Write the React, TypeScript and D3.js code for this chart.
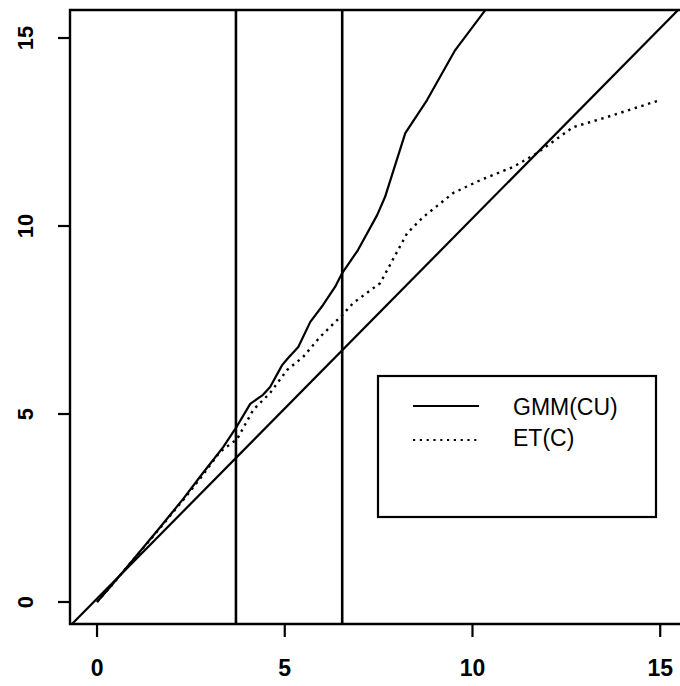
import React from 'react';
import * as d3 from 'd3';

// Axis limits (data units) and ticks
const xLimits = [-0.72, 15.66];
const yLimits = [-0.585, 15.745];
const xTicks = [0, 5, 10, 15];
const yTicks = [0, 5, 10, 15];

// GMM(CU) solid curve
const gmmX = [0, 0.35, 1.0, 1.68, 2.3, 2.82, 3.36, 3.73, 4.08, 4.42, 4.61, 4.93, 5.09, 5.36, 5.68, 6.02, 6.34, 6.53, 6.95, 7.46, 7.67, 8.21, 8.79, 9.54, 10.34, 10.6];
const gmmY = [0, 0.40, 1.17, 1.99, 2.75, 3.43, 4.12, 4.68, 5.27, 5.51, 5.72, 6.30, 6.49, 6.78, 7.45, 7.90, 8.38, 8.75, 9.36, 10.29, 10.77, 12.47, 13.35, 14.68, 15.74, 16.15];

// ET(C) dotted curve
const etX = [0, 0.35, 1.0, 1.68, 2.3, 2.82, 3.28, 3.73, 4.16, 4.61, 5.06, 5.49, 5.94, 6.53, 6.82, 7.54, 8.26, 8.69, 9.49, 10.21, 11.08, 11.72, 12.68, 13.59, 15.0];
const etY = [0, 0.40, 1.16, 1.97, 2.72, 3.38, 4.0, 4.33, 5.11, 5.56, 6.17, 6.52, 7.05, 7.63, 7.95, 8.48, 9.81, 10.24, 10.88, 11.22, 11.57, 11.94, 12.63, 12.9, 13.35];

// 45-degree reference line endpoints
const diagX = [-0.8, 15.6];
const diagY = [-0.72, 15.87];

// Vertical critical-value lines
const criticalValues = [3.70, 6.53];

const legendLabels = ['GMM(CU)', 'ET(C)'];
const legendDash = ['none', '2.2,4.6'];

const W = 680;
const H = 686;
const plotLeft = 70;
const plotTop = 10;
const plotBottom = 624;
const plotRight = 685;

export default function App() {
  const x = d3.scaleLinear().domain(xLimits).range([plotLeft, plotRight]);
  const y = d3.scaleLinear().domain(yLimits).range([plotBottom, plotTop]);

  const line = d3
    .line<[number, number]>()
    .x((d) => x(d[0]))
    .y((d) => y(d[1]));

  const gmm = gmmX.map((v, i) => [v, gmmY[i]] as [number, number]);
  const et = etX.map((v, i) => [v, etY[i]] as [number, number]);
  const diag = diagX.map((v, i) => [v, diagY[i]] as [number, number]);

  const font = "'Liberation Sans', Arial, Helvetica, sans-serif";

  // legend geometry
  const lg = { x: 378, y: 376, w: 278, h: 141 };

  return (
    <svg
      width={W}
      height={H}
      style={{ position: 'absolute', left: 0, top: 0, background: '#fff' }}
      xmlns="http://www.w3.org/2000/svg"
    >
      <defs>
        <clipPath id="plotClip">
          <rect x={plotLeft} y={plotTop} width={plotRight - plotLeft} height={plotBottom - plotTop} />
        </clipPath>
      </defs>
      <rect x={0} y={0} width={W} height={H} fill="#fff" />

      <g clipPath="url(#plotClip)" fill="none" stroke="#000" strokeLinejoin="round">
        <path d={line(diag) || ''} strokeWidth={2.2} />
        {criticalValues.map((c) => (
          <line key={c} x1={x(c)} x2={x(c)} y1={plotTop} y2={plotBottom} strokeWidth={2.6} />
        ))}
        <path d={line(gmm) || ''} strokeWidth={2.2} />
        <path d={line(et) || ''} strokeWidth={2.4} strokeDasharray="2.4,4.6" />
      </g>

      {/* frame */}
      <path
        d={`M${plotRight},${plotTop} L${plotLeft},${plotTop} L${plotLeft},${plotBottom} L${plotRight},${plotBottom}`}
        fill="none"
        stroke="#000"
        strokeWidth={2.4}
      />

      {/* x axis ticks */}
      {xTicks.map((t) => (
        <g key={'x' + t}>
          <line x1={x(t)} x2={x(t)} y1={plotBottom} y2={plotBottom + 13} stroke="#000" strokeWidth={2.2} />
          <text
            x={x(t)}
            y={676}
            textAnchor="middle"
            fontFamily={font}
            fontWeight="bold"
            fontSize={23}
            fill="#000"
          >
            {t}
          </text>
        </g>
      ))}

      {/* y axis ticks */}
      {yTicks.map((t) => (
        <g key={'y' + t}>
          <line x1={plotLeft - 12} x2={plotLeft} y1={y(t)} y2={y(t)} stroke="#000" strokeWidth={2.2} />
          <text
            transform={`translate(33,${y(t)}) rotate(-90)`}
            textAnchor="middle"
            fontFamily={font}
            fontWeight="bold"
            fontSize={22}
            fill="#000"
          >
            {t}
          </text>
        </g>
      ))}

      {/* legend */}
      <rect x={lg.x} y={lg.y} width={lg.w} height={lg.h} fill="#fff" stroke="#000" strokeWidth={2.2} />
      {legendLabels.map((lab, i) => {
        const ly = [406, 440][i];
        const ty = [415, 446][i];
        return (
          <g key={lab}>
            <line
              x1={413}
              x2={479}
              y1={ly}
              y2={ly}
              stroke="#000"
              strokeWidth={i === 0 ? 1.8 : 2}
              strokeDasharray={legendDash[i]}
            />
            <text x={513} y={ty} fontFamily={font} fontSize={23} fill="#000">
              {lab}
            </text>
          </g>
        );
      })}
    </svg>
  );
}
